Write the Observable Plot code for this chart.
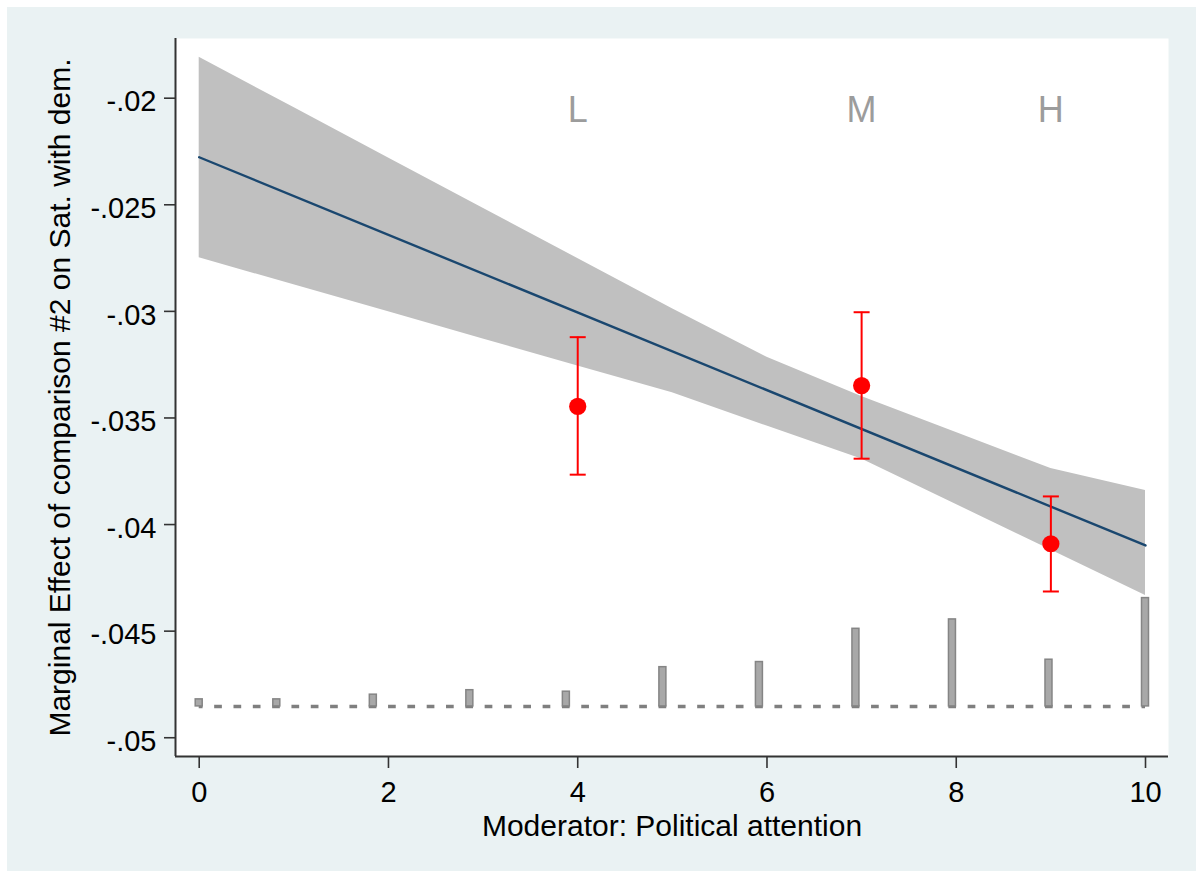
<!DOCTYPE html>
<html>
<head>
<meta charset="utf-8">
<script src="https://cdn.jsdelivr.net/npm/d3@7"></script>
<script src="https://cdn.jsdelivr.net/npm/@observablehq/plot@0.6"></script>
<style>
  html, body { margin: 0; padding: 0; background: #ffffff; }
  #wrap { position: absolute; left: 7px; top: 7px; width: 1189px; height: 864px; background: #eaf2f3; }
  #wrap svg { display: block; }
</style>
</head>
<body>
<div id="wrap"></div>
<script>
// ---- data ----
const xTicks = [0, 2, 4, 6, 8, 10];
const yTicks = [-0.02, -0.025, -0.03, -0.035, -0.04, -0.045, -0.05];
const yTickLabels = ["-.02", "-.025", "-.03", "-.035", "-.04", "-.045", "-.05"];

// confidence band of the marginal effect
const bandX     = [0, 1, 2, 3, 4, 5, 6, 7, 8, 9, 10];
const bandUpper = [-0.01808, -0.02044, -0.02280, -0.02516, -0.02752, -0.02988, -0.03215, -0.03399, -0.03568, -0.03737, -0.03840];
const bandLower = [-0.02749, -0.02875, -0.03002, -0.03129, -0.03256, -0.03382, -0.03538, -0.03693, -0.03906, -0.04119, -0.04333];

// linear marginal effect
const fitX = [0, 10];
const fitY = [-0.02277, -0.04098];

// binned estimates (L, M, H)
const binLabels = ["L", "M", "H"];
const binX   = [4, 7, 9];
const binEst = [-0.03446, -0.03348, -0.04090];
const binLo  = [-0.03766, -0.03691, -0.04314];
const binHi  = [-0.03121, -0.03004, -0.03868];
const binLabelY = -0.02058;

// histogram of the moderator
const histX   = [0, 0.82, 1.84, 2.86, 3.88, 4.9, 5.92, 6.94, 7.96, 8.98, 10];
const histTop = [-0.04820, -0.04820, -0.04798, -0.04777, -0.04784, -0.04669, -0.04645, -0.04489, -0.04445, -0.04634, -0.04345];
const histBase = -0.04853;

const xTitle = "Moderator: Political attention";
const yTitle = "Marginal Effect of comparison #2 on Sat. with dem.";

// ---- build tables ----
const band = bandX.map((x, i) => ({x, lo: bandLower[i], hi: bandUpper[i]}));
const fit = fitX.map((x, i) => ({x, y: fitY[i]}));
const bins = binX.map((x, i) => ({x, est: binEst[i], lo: binLo[i], hi: binHi[i], label: binLabels[i]}));
const hist = histX.map((x, i) => ({x, top: histTop[i]}));

const capSymbol = {
  draw(ctx, size) {
    const w = Math.sqrt(size / Math.PI);
    ctx.moveTo(-w, 0);
    ctx.lineTo(w, 0);
  }
};

const xDomain = [-0.2505, 10.243];
const yDomain = [-0.05088, -0.0172];

const chart = Plot.plot({
  width: 1189,
  height: 864,
  marginLeft: 168,
  marginRight: 28,
  marginTop: 31,
  marginBottom: 115,
  style: {background: "transparent", fontFamily: "'Liberation Sans', Arial, sans-serif", fontSize: "29px", color: "#000"},
  x: {domain: xDomain},
  y: {domain: yDomain},
  marks: [
    Plot.frame({fill: "white", stroke: "none"}),
    // confidence band
    Plot.areaY(band, {x: "x", y1: "lo", y2: "hi", fill: "#c0c0c0"}),
    // fitted line
    Plot.line(fit, {x: "x", y: "y", stroke: "#1a476f", strokeWidth: 2.4}),
    // histogram baseline (dashed)
    Plot.ruleY([histBase], {x1: histX[0], x2: histX[histX.length - 1], stroke: "#7f7f7f", strokeWidth: 3.5, strokeDasharray: "7.7 11.62", strokeDashoffset: 3.85}),
    // histogram bars
    Plot.rect(hist, {x1: "x", x2: "x", y1: () => histBase, y2: "top", insetLeft: -3.5, insetRight: -3.5, fill: "#a8a8a8", stroke: "#858585", strokeWidth: 1.5}),
    // error bars
    Plot.ruleX(bins, {x: "x", y1: "lo", y2: "hi", stroke: "#ff0000", strokeWidth: 2}),
    Plot.dot(bins, {x: "x", y: "lo", symbol: capSymbol, r: 8, stroke: "#ff0000", strokeWidth: 2, fill: "none"}),
    Plot.dot(bins, {x: "x", y: "hi", symbol: capSymbol, r: 8, stroke: "#ff0000", strokeWidth: 2, fill: "none"}),
    Plot.dot(bins, {x: "x", y: "est", r: 8.6, fill: "#ff0000", stroke: "none"}),
    // L / M / H labels
    Plot.text(bins, {x: "x", y: () => binLabelY, text: "label", fontSize: 36, fill: "#9c9c9c", lineAnchor: "middle"}),
    // axis lines
    Plot.ruleX([xDomain[0]], {stroke: "#333", strokeWidth: 2}),
    Plot.ruleY([yDomain[0]], {stroke: "#333", strokeWidth: 2}),
    // axes
    Plot.axisX(xTicks, {tickSize: 12, tickPadding: 13, strokeWidth: 1.6, stroke: "#333", label: null, fontSize: 29, tickFormat: d => String(d)}),
    Plot.axisY(yTicks, {tickSize: 11, strokeWidth: 1.6, stroke: "#333", label: null, tickFormat: () => ""}),
    Plot.text(yTicks, {y: d => d, text: (d, i) => yTickLabels[i], frameAnchor: "left", textAnchor: "end", dx: -19, dy: 4, fontSize: 29, fill: "#000"}),
    // axis titles
    Plot.text([xTitle], {text: d => d, frameAnchor: "bottom", textAnchor: "middle", dy: 70, fontSize: 30, lineAnchor: "middle", fill: "#000"}),
    Plot.text([yTitle], {text: d => d, frameAnchor: "left", textAnchor: "middle", rotate: -90, dx: -115, fontSize: 30, lineAnchor: "middle", fill: "#000"})
  ]
});

document.getElementById("wrap").appendChild(chart);
</script>
</body>
</html>
